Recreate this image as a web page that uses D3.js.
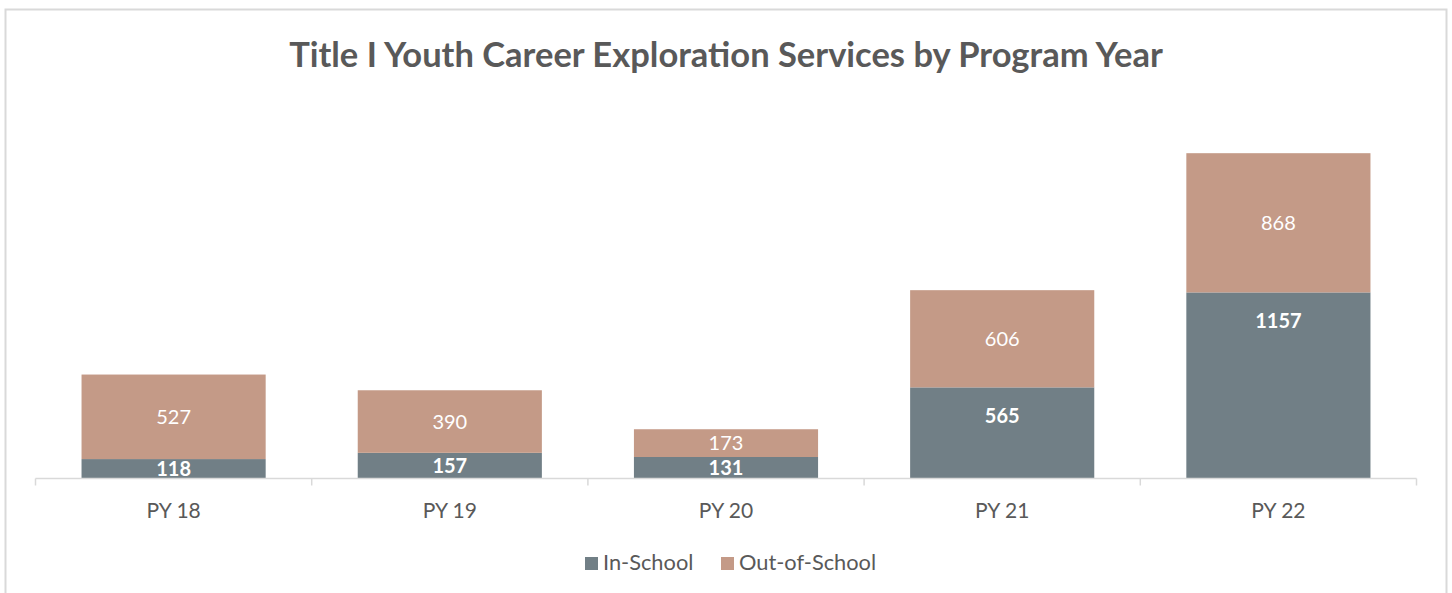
<!DOCTYPE html>
<html>
<head>
<meta charset="utf-8">
<script src="https://cdn.jsdelivr.net/npm/d3@7"></script>
<style>
  body { margin: 0; background: #fff; }
  svg { display: block; font-family: Lato, "Open Sans", sans-serif; }
</style>
</head>
<body>
<div id="chart"></div>
<script>
var years = ["PY 18", "PY 19", "PY 20", "PY 21", "PY 22"];
var inSchool = [118, 157, 131, 565, 1157];
var outSchool = [527, 390, 173, 606, 868];
var seriesNames = ["In-School", "Out-of-School"];
var colors = ["#717f86", "#c49a87"];

var width = 1452, height = 593;
var svg = d3.select("#chart").append("svg")
    .attr("width", width)
    .attr("height", height);

// chart border (bottom cut off like the picture)
svg.append("path")
    .attr("d", "M5.5," + (height + 2) + "V9.5H1446.5V" + (height + 2))
    .attr("fill", "none")
    .attr("stroke", "#d9d9d9")
    .attr("stroke-width", 2);

svg.append("text")
    .attr("x", 726)
    .attr("y", 67)
    .attr("text-anchor", "middle")
    .style("font-size", "34.5px")
    .style("font-weight", "bold")
    .style("fill", "#595959")
    .text("Title I Youth Career Exploration Services by Program Year");

var data = years.map(function(d, i) {
  return { year: d, a: inSchool[i], b: outSchool[i] };
});

var x = d3.scaleBand().domain(years).range([35.5, 1416.5]).paddingInner(1/3).paddingOuter(1/6);
var y = d3.scaleLinear().domain([0, 2500]).range([478, 77]);

var stack = d3.stack().keys(["a", "b"])(data);

var layers = svg.selectAll(".layer")
    .data(stack)
    .enter().append("g")
    .attr("class", "layer")
    .attr("fill", function(d, i) { return colors[i]; });

layers.selectAll("rect")
    .data(function(d) { return d; })
    .enter().append("rect")
    .attr("x", function(d) { return x(d.data.year); })
    .attr("width", x.bandwidth())
    .attr("y", function(d) { return y(d[1]); })
    .attr("height", function(d) { return y(d[0]) - y(d[1]); });

// in-school labels sit at the inside end, out-of-school ones are centred
layers.selectAll("text")
    .data(function(d, i) { return d.map(function(p) { return { p: p, k: i }; }); })
    .enter().append("text")
    .attr("x", function(d) { return x(d.p.data.year) + x.bandwidth() / 2; })
    .attr("y", function(d) {
      var mid = (y(d.p[0]) + y(d.p[1])) / 2;
      return d.k == 0 ? Math.min(y(d.p[1]) + 28, mid) : mid;
    })
    .attr("dy", "0.36em")
    .attr("text-anchor", "middle")
    .style("fill", "#fff")
    .style("font-size", "20px")
    .style("font-weight", function(d) { return d.k == 0 ? "bold" : "normal"; })
    .text(function(d) { return d.p[1] - d.p[0]; });

// x axis with ticks between categories
var xAxis = svg.append("g").attr("transform", "translate(0,478.5)");
xAxis.append("line")
    .attr("x1", 35.5).attr("x2", 1416.5)
    .attr("stroke", "#d9d9d9").attr("stroke-width", 1.5);
var step = x.step();
xAxis.selectAll(".tk")
    .data(d3.range(years.length + 1))
    .enter().append("line")
    .attr("x1", function(i) { return 35.5 + i * step; })
    .attr("x2", function(i) { return 35.5 + i * step; })
    .attr("y1", 0).attr("y2", 7)
    .attr("stroke", "#d9d9d9").attr("stroke-width", 1.5);
xAxis.selectAll(".lbl")
    .data(years)
    .enter().append("text")
    .attr("x", function(d) { return x(d) + x.bandwidth() / 2; })
    .attr("y", 39.5)
    .attr("text-anchor", "middle")
    .style("font-size", "21px")
    .style("fill", "#595959")
    .text(function(d) { return d; });

// legend
var legend = svg.append("g");
var lx = [585, 721];
seriesNames.forEach(function(name, i) {
  legend.append("rect")
      .attr("x", lx[i]).attr("y", 557)
      .attr("width", 13).attr("height", 13)
      .attr("fill", colors[i]);
  legend.append("text")
      .attr("x", lx[i] + 18).attr("y", 570)
      .style("font-size", "21.8px")
      .style("fill", "#595959")
      .text(name);
});
</script>
</body>
</html>
